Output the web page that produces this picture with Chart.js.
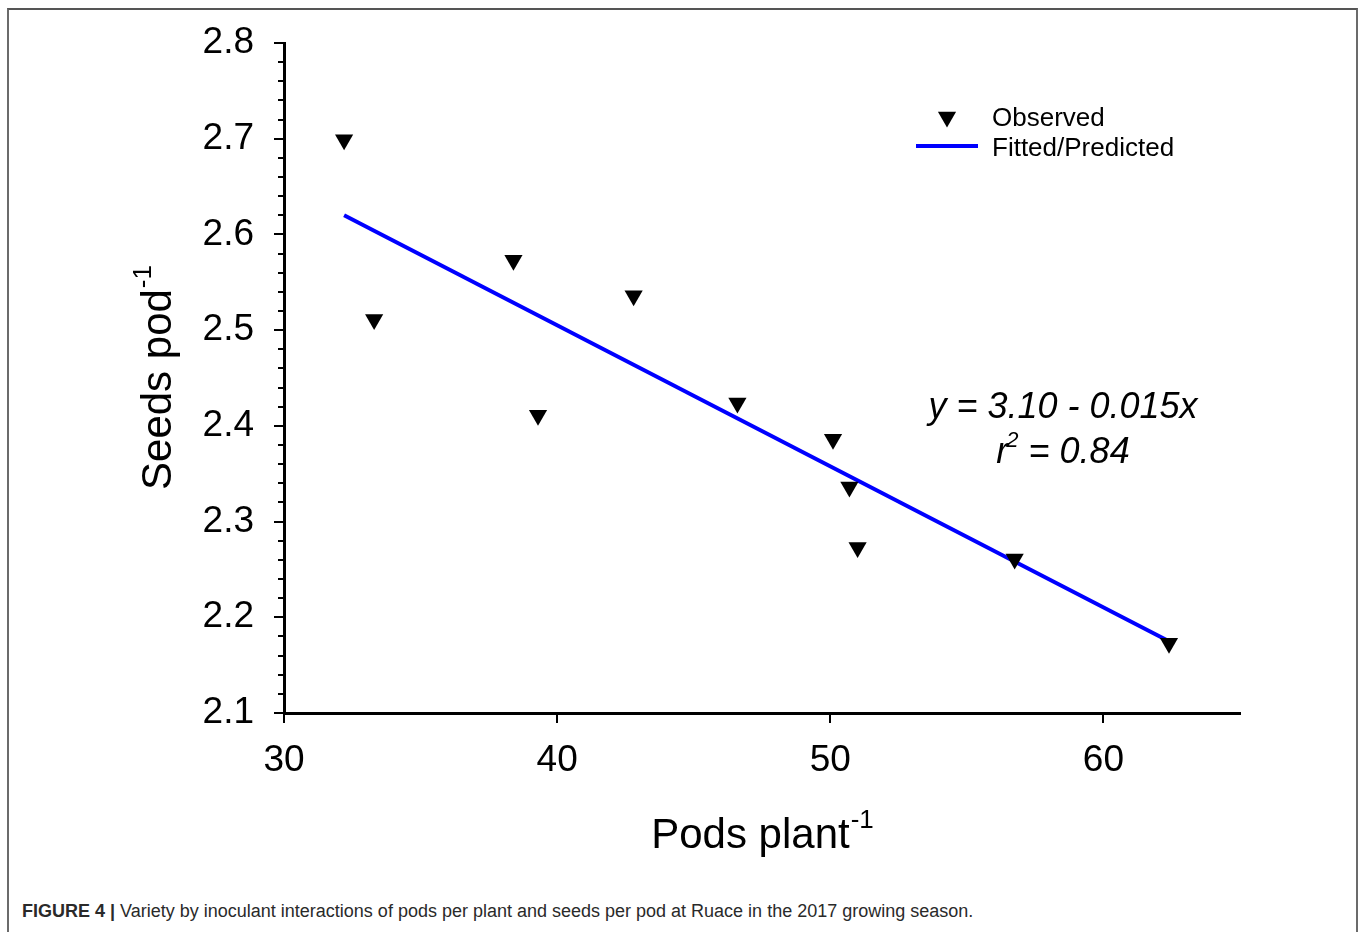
<!DOCTYPE html>
<html>
<head>
<meta charset="utf-8">
<title>Pods per plant vs seeds per pod</title>
<script src="https://cdn.jsdelivr.net/npm/chart.js@4.4.1/dist/chart.umd.min.js"></script>
<style>
  html, body { margin: 0; padding: 0; background: #fff; }
  body { width: 1360px; height: 932px; position: relative; overflow: hidden; }
  #frame {
    position: absolute; left: 7px; top: 8px; width: 1347px; height: 940px;
    border-left: 2px solid #6b6b6b; border-top: 2px solid #555; border-right: 2px solid #6b6b6b;
  }
  #wrap { position: absolute; left: 0; top: 0; width: 1360px; height: 880px; }
  #caption {
    position: absolute; left: 22px; top: 901px; white-space: nowrap;
    font-family: "Liberation Sans", Arial, sans-serif; font-size: 18px; color: #2a2a2a;
  }
  #caption b { font-weight: bold; }
</style>
</head>
<body>
<div id="frame"></div>
<div id="wrap"><canvas id="chart"></canvas></div>
<div id="caption"><b>FIGURE 4 |</b> Variety by inoculant interactions of pods per plant and seeds per pod at Ruace in the 2017 growing season.</div>
<script>
// observed pods per plant (x) and seeds per pod (y)
const podsPerPlant = [32.2, 33.3, 38.4, 39.3, 42.8, 46.6, 50.1, 50.7, 51.0, 56.75, 62.4];
const seedsPerPod = [2.699, 2.511, 2.573, 2.411, 2.536, 2.424, 2.386, 2.336, 2.273, 2.261, 2.173];

// regression line end points
const fittedX = [32.2, 62.4];
const fittedY = [2.620, 2.175];

const xTicks = [30, 40, 50, 60];
const yTicks = [2.1, 2.2, 2.3, 2.4, 2.5, 2.6, 2.7, 2.8];

const FONT = '"Liberation Sans", Arial, sans-serif';

const observed = podsPerPlant.map((x, i) => ({ x: x, y: seedsPerPod[i] }));
const fitted = fittedX.map((x, i) => ({ x: x, y: fittedY[i] }));

// axis titles, minor ticks, legend and equation
const extras = {
  id: 'extras',
  afterDraw(chart) {
    const ctx = chart.ctx;
    const area = chart.chartArea;
    const ys = chart.scales.y;
    ctx.save();

    // minor ticks on y every 0.02
    ctx.strokeStyle = '#000';
    ctx.lineWidth = 2;
    for (let k = 0; k <= 35; k++) {
      if (k % 5 === 0) continue;
      const py = Math.round(ys.getPixelForValue(2.1 + k * 0.02));
      ctx.beginPath();
      ctx.moveTo(area.left - 6, py);
      ctx.lineTo(area.left, py);
      ctx.stroke();
    }

    ctx.fillStyle = '#000';
    ctx.textBaseline = 'alphabetic';

    // x title with superscript
    const xt = 'Pods plant', sup = '-1';
    ctx.font = '42px ' + FONT;
    const w1 = ctx.measureText(xt).width;
    ctx.font = '26px ' + FONT;
    const w2 = ctx.measureText(sup).width;
    let tx = (area.left + area.right) / 2 - (w1 + w2) / 2;
    ctx.font = '42px ' + FONT;
    ctx.textAlign = 'left';
    ctx.fillText(xt, tx, 848);
    ctx.font = '26px ' + FONT;
    ctx.fillText(sup, tx + w1 + 1, 828);

    // y title, rotated
    ctx.save();
    ctx.translate(171, (area.top + area.bottom) / 2);
    ctx.rotate(-Math.PI / 2);
    const yt = 'Seeds pod';
    ctx.font = '42px ' + FONT;
    const v1 = ctx.measureText(yt).width;
    ctx.font = '26px ' + FONT;
    const v2 = ctx.measureText(sup).width;
    const sx = -(v1 + v2) / 2;
    ctx.font = '42px ' + FONT;
    ctx.fillText(yt, sx, 0);
    ctx.font = '26px ' + FONT;
    ctx.fillText(sup, sx + v1 + 1, -20);
    ctx.restore();

    // legend
    Chart.helpers.drawPoint(ctx, { pointStyle: 'triangle', rotation: 180, radius: 10.5, borderWidth: 0 }, 947, 117);
    ctx.strokeStyle = '#0000ff';
    ctx.lineWidth = 4;
    ctx.beginPath();
    ctx.moveTo(916, 146);
    ctx.lineTo(978, 146);
    ctx.stroke();
    ctx.fillStyle = '#000';
    ctx.font = '26px ' + FONT;
    ctx.textAlign = 'left';
    ctx.fillText('Observed', 992, 126);
    ctx.fillText('Fitted/Predicted', 992, 156);

    // regression equation
    ctx.font = 'italic 36px ' + FONT;
    ctx.textAlign = 'center';
    ctx.fillText('y = 3.10 - 0.015x', 1063, 418);
    const rs = 'r', rest = ' = 0.84';
    const rw = ctx.measureText(rs).width;
    const restw = ctx.measureText(rest).width;
    ctx.font = 'italic 22px ' + FONT;
    const sw = ctx.measureText('2').width;
    const start = 1064 - (rw + sw + restw) / 2;
    ctx.textAlign = 'left';
    ctx.font = 'italic 36px ' + FONT;
    ctx.fillText(rs, start, 463);
    ctx.fillText(rest, start + rw + sw - 2, 463);
    ctx.font = 'italic 22px ' + FONT;
    ctx.fillText('2', start + rw - 2, 447);

    ctx.restore();
  }
};

new Chart(document.getElementById('chart'), {
  type: 'scatter',
  data: {
    datasets: [
      {
        label: 'Fitted/Predicted',
        type: 'line',
        data: fitted,
        borderColor: '#0000ff',
        borderWidth: 4,
        pointRadius: 0,
        fill: false,
        order: 2
      },
      {
        label: 'Observed',
        data: observed,
        pointStyle: 'triangle',
        rotation: 180,
        pointRadius: 10.5,
        pointHoverRadius: 10.5,
        backgroundColor: '#000',
        borderColor: '#000',
        borderWidth: 0,
        order: 1
      }
    ]
  },
  options: {
    responsive: true,
    maintainAspectRatio: false,
    animation: false,
    events: [],
    layout: { padding: { left: 184, right: 120, top: 43, bottom: 107 } },
    plugins: { legend: { display: false }, tooltip: { enabled: false } },
    scales: {
      x: {
        type: 'linear',
        min: 30,
        max: 65,
        afterBuildTicks: (s) => { s.ticks = xTicks.map(v => ({ value: v })); },
        afterFit: (s) => { s.height = 60; },
        border: { display: true, color: '#000', width: 3 },
        grid: { drawOnChartArea: false, drawTicks: true, tickLength: 10, color: '#000', lineWidth: 2 },
        ticks: { color: '#000', font: { family: FONT, size: 37 }, padding: 16, maxRotation: 0 }
      },
      y: {
        type: 'linear',
        min: 2.1,
        max: 2.8,
        afterBuildTicks: (s) => { s.ticks = yTicks.map(v => ({ value: v })); },
        afterFit: (s) => { s.width = 100; },
        border: { display: true, color: '#000', width: 3 },
        grid: { drawOnChartArea: false, drawTicks: true, tickLength: 10, color: '#000', lineWidth: 2 },
        ticks: {
          color: '#000',
          font: { family: FONT, size: 37 },
          padding: 20,
          callback: (v) => v.toFixed(1)
        }
      }
    }
  },
  plugins: [extras]
});
</script>
</body>
</html>
